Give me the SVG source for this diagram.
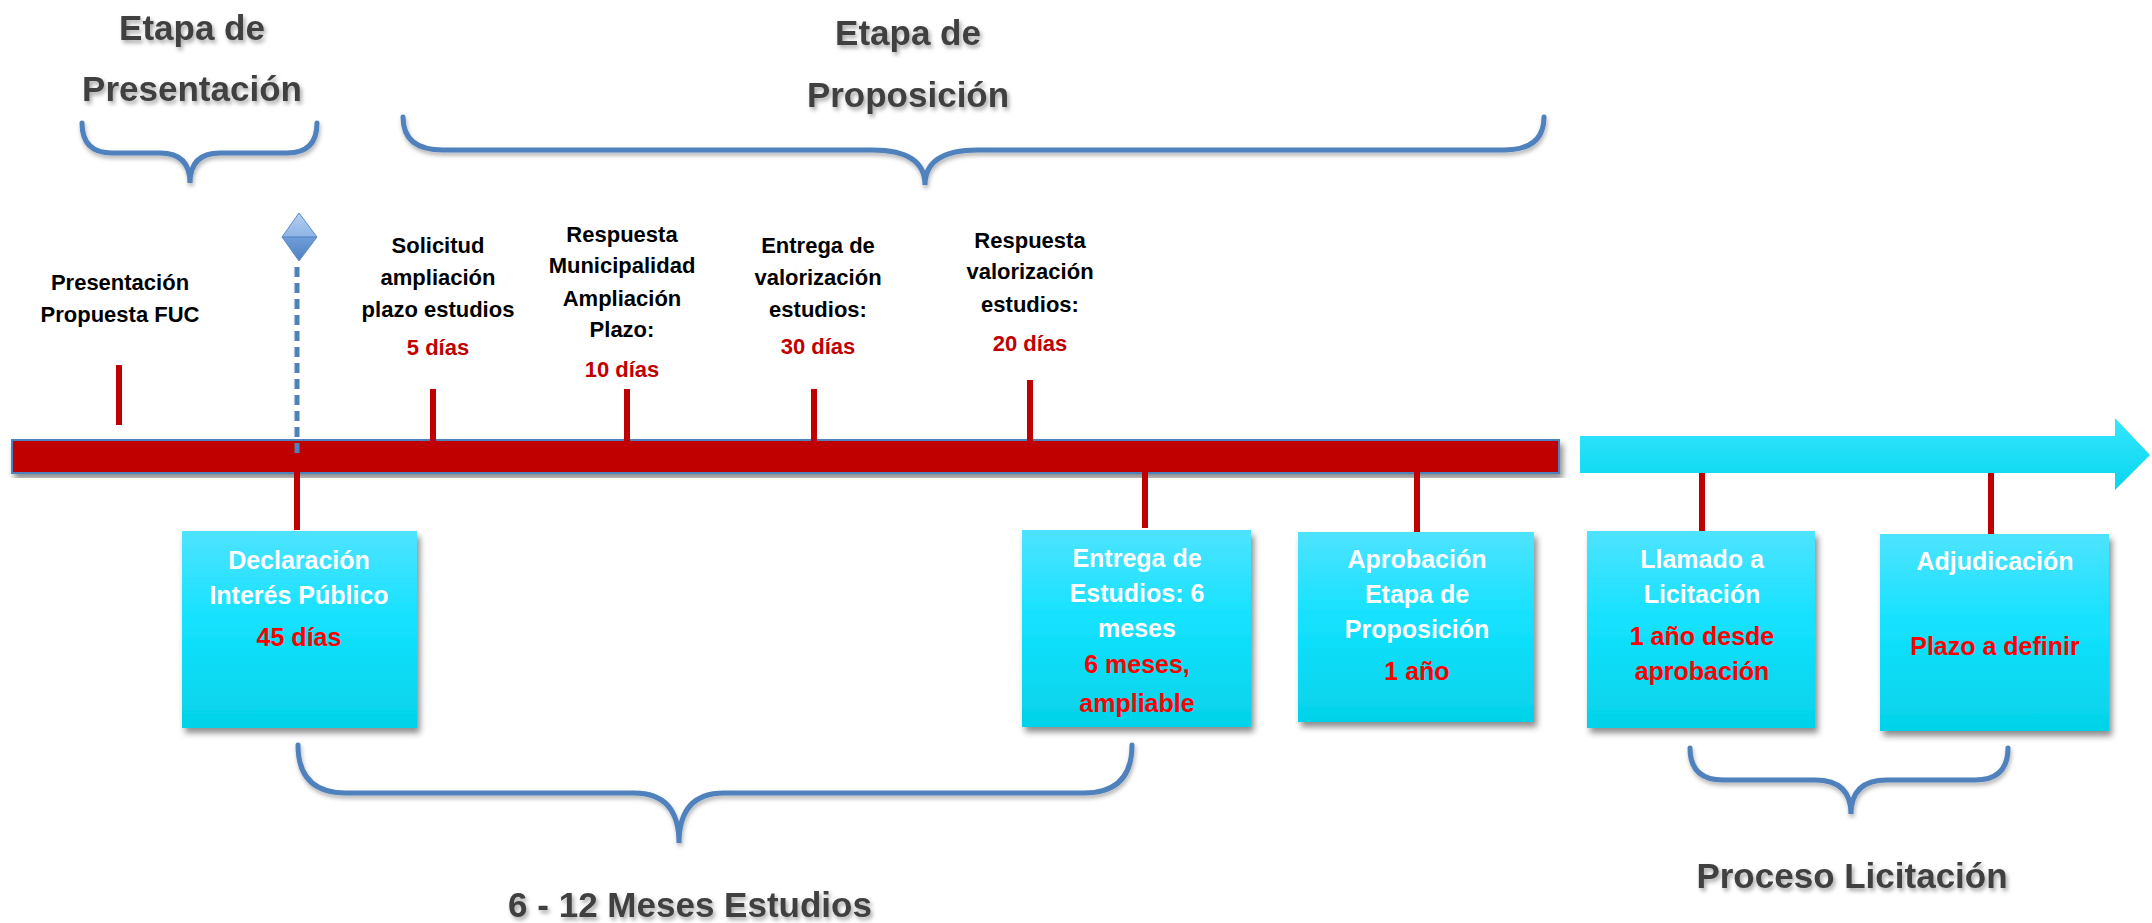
<svg xmlns="http://www.w3.org/2000/svg" width="2152" height="923" viewBox="0 0 2152 923">
<style>
  text { font-family: "Liberation Sans", Arial, sans-serif; font-weight: bold; text-anchor: middle; }
  .head { font-size: 35px; fill: #404040; filter: url(#tshadow); }
  .lbl { font-size: 22px; fill: #000000; }
  .lblnum { font-size: 22px; fill: #c00000; }
  .boxt { font-size: 25px; fill: #ffffff; }
  .boxnum { font-size: 25px; fill: #ff0000; }
  .brace { fill: none; stroke: #4f81bd; stroke-width: 5; stroke-linecap: round; filter: url(#bshadow); }
  .tick { stroke: #c00000; stroke-width: 6; }
  .box { fill: url(#boxgrad); filter: url(#boxshadow); }
</style>
<defs>
  <linearGradient id="boxgrad" x1="0" y1="0" x2="0" y2="1">
    <stop offset="0" stop-color="#4ee3ff"/>
    <stop offset="0.45" stop-color="#14e2ff"/>
    <stop offset="1" stop-color="#04d2e8"/>
  </linearGradient>
  <linearGradient id="arrowgrad" x1="0" y1="0" x2="0" y2="1">
    <stop offset="0" stop-color="#36e6ff"/>
    <stop offset="1" stop-color="#08d6ee"/>
  </linearGradient>
  <linearGradient id="diagrad" x1="0" y1="0" x2="0" y2="1">
    <stop offset="0" stop-color="#b3cdf0"/>
    <stop offset="0.5" stop-color="#8fb4e6"/>
    <stop offset="0.5" stop-color="#6f9ddb"/>
    <stop offset="1" stop-color="#4f81bd"/>
  </linearGradient>
  <filter id="tshadow" x="-10%" y="-30%" width="120%" height="160%">
    <feDropShadow dx="2" dy="3" stdDeviation="2" flood-color="#000" flood-opacity="0.35"/>
  </filter>
  <filter id="bshadow" x="-10%" y="-30%" width="120%" height="160%">
    <feDropShadow dx="1" dy="3" stdDeviation="2" flood-color="#000" flood-opacity="0.3"/>
  </filter>
  <filter id="boxshadow" x="-10%" y="-10%" width="125%" height="125%">
    <feDropShadow dx="3" dy="5" stdDeviation="3" flood-color="#000" flood-opacity="0.45"/>
  </filter>
</defs>

<!-- Headings and braces -->
<g id="etapa-presentacion">
  <text class="head" x="192" y="40">Etapa de</text>
  <text class="head" x="192" y="101">Presentación</text>
  <path class="brace" d="M82,123 Q82,153 112,153 L160,153 Q190,153 190,183 Q190,153 220,153 L287,153 Q317,153 317,123"/>
</g>
<g id="etapa-proposicion">
  <text class="head" x="908" y="45">Etapa de</text>
  <text class="head" x="908" y="107">Proposición</text>
  <path class="brace" d="M403,117 Q403,150 443,150 L872,150 Q925,150 925,185 Q925,150 978,150 L1504,150 Q1544,150 1544,117"/>
</g>
<g id="meses-estudios">
  <path class="brace" d="M298,745 Q298,793 346,793 L634,793 Q679,793 679,843 Q679,793 724,793 L1084,793 Q1132,793 1132,745"/>
  <text class="head" x="690" y="917">6 - 12 Meses Estudios</text>
</g>
<g id="proceso-licitacion">
  <path class="brace" d="M1690,748 Q1690,780 1723,780 L1815,780 Q1851,780 1851,814 Q1851,780 1887,780 L1975,780 Q2008,780 2008,748"/>
  <text class="head" x="1852" y="888">Proceso Licitación</text>
</g>

<!-- Top labels -->
<g id="presentacion-fuc">
  <text class="lbl" x="120" y="290">Presentación</text>
  <text class="lbl" x="120" y="322">Propuesta FUC</text>
</g>
<g id="solicitud">
  <text class="lbl" x="438" y="253">Solicitud</text>
  <text class="lbl" x="438" y="285">ampliación</text>
  <text class="lbl" x="438" y="317">plazo estudios</text>
  <text class="lblnum" x="438" y="355">5 días</text>
</g>
<g id="respuesta-municipalidad">
  <text class="lbl" x="622" y="242">Respuesta</text>
  <text class="lbl" x="622" y="273">Municipalidad</text>
  <text class="lbl" x="622" y="306">Ampliación</text>
  <text class="lbl" x="622" y="337">Plazo:</text>
  <text class="lblnum" x="622" y="377">10 días</text>
</g>
<g id="entrega-valorizacion">
  <text class="lbl" x="818" y="253">Entrega de</text>
  <text class="lbl" x="818" y="285">valorización</text>
  <text class="lbl" x="818" y="317">estudios:</text>
  <text class="lblnum" x="818" y="354">30 días</text>
</g>
<g id="respuesta-valorizacion">
  <text class="lbl" x="1030" y="248">Respuesta</text>
  <text class="lbl" x="1030" y="279">valorización</text>
  <text class="lbl" x="1030" y="312">estudios:</text>
  <text class="lblnum" x="1030" y="351">20 días</text>
</g>

<!-- Timeline bar and arrow -->
<g id="timeline-bar">
  <rect x="12" y="440" width="1547" height="33" fill="#c00000" stroke="#4f81bd" stroke-width="2" filter="url(#boxshadow)"/>
</g>
<g id="licitacion-arrow">
  <polygon points="1580,436 2115,436 2115,418 2150,455 2115,490 2115,473 1580,473" fill="url(#arrowgrad)"/>
</g>

<!-- Milestone diamond -->
<g id="hito">
  <line x1="297" y1="267" x2="297" y2="457" stroke="#4f81bd" stroke-width="5" stroke-dasharray="10 6"/>
  <polygon points="299,213 317,237 299,261 282,237" fill="url(#diagrad)" stroke="#5b8cc8" stroke-width="1"/>
  <line x1="282" y1="237" x2="317" y2="237" stroke="#4f81bd" stroke-width="1"/>
</g>

<!-- Connectors (ticks) -->
<g id="connectors">
  <line class="tick" x1="119" y1="365" x2="119" y2="425"/>
  <line class="tick" x1="433" y1="389" x2="433" y2="449"/>
  <line class="tick" x1="627" y1="389" x2="627" y2="449"/>
  <line class="tick" x1="814" y1="389" x2="814" y2="449"/>
  <line class="tick" x1="1030" y1="380" x2="1030" y2="442"/>
  <line class="tick" x1="297" y1="461" x2="297" y2="530"/>
  <line class="tick" x1="1145" y1="459" x2="1145" y2="528"/>
  <line class="tick" x1="1417" y1="463" x2="1417" y2="532"/>
  <line class="tick" x1="1702" y1="473" x2="1702" y2="531"/>
  <line class="tick" x1="1991" y1="473" x2="1991" y2="534"/>
</g>

<!-- Boxes -->
<g id="declaracion">
  <rect class="box" x="182" y="531" width="235" height="197"/>
  <text class="boxt" x="299" y="569">Declaración</text>
  <text class="boxt" x="299" y="604">Interés Público</text>
  <text class="boxnum" x="299" y="646">45 días</text>
</g>
<g id="entrega-estudios">
  <rect class="box" x="1022" y="530" width="229" height="197"/>
  <text class="boxt" x="1137" y="567">Entrega de</text>
  <text class="boxt" x="1137" y="602">Estudios: 6</text>
  <text class="boxt" x="1137" y="637">meses</text>
  <text class="boxnum" x="1137" y="673">6 meses,</text>
  <text class="boxnum" x="1137" y="712">ampliable</text>
</g>
<g id="aprobacion">
  <rect class="box" x="1298" y="532" width="236" height="190"/>
  <text class="boxt" x="1417" y="568">Aprobación</text>
  <text class="boxt" x="1417" y="603">Etapa de</text>
  <text class="boxt" x="1417" y="638">Proposición</text>
  <text class="boxnum" x="1417" y="680">1 año</text>
</g>
<g id="llamado">
  <rect class="box" x="1587" y="531" width="228" height="197"/>
  <text class="boxt" x="1702" y="568">Llamado a</text>
  <text class="boxt" x="1702" y="603">Licitación</text>
  <text class="boxnum" x="1702" y="645">1 año desde</text>
  <text class="boxnum" x="1702" y="680">aprobación</text>
</g>
<g id="adjudicacion">
  <rect class="box" x="1880" y="534" width="229" height="197"/>
  <text class="boxt" x="1995" y="570">Adjudicación</text>
  <text class="boxnum" x="1995" y="655">Plazo a definir</text>
</g>
</svg>
